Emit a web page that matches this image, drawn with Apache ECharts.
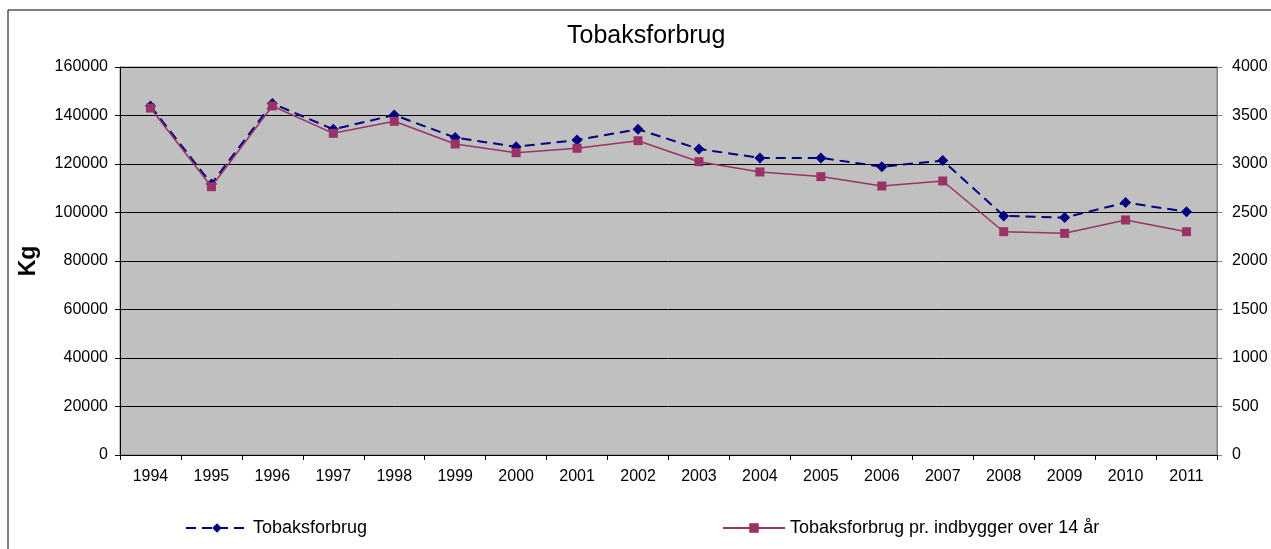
<!DOCTYPE html>
<html>
<head>
<meta charset="utf-8">
<script src="https://cdn.jsdelivr.net/npm/echarts@6/dist/echarts.min.js"></script>
<style>
  html, body { margin: 0; padding: 0; background: #fff; }
  #main { width: 1271px; height: 549px; }
</style>
</head>
<body>
<div id="main"></div>
<script>
var years = ['1994', '1995', '1996', '1997', '1998', '1999', '2000', '2001', '2002',
             '2003', '2004', '2005', '2006', '2007', '2008', '2009', '2010', '2011'];
// Tobaksforbrug i kg (venstre akse)
var forbrugKg = [143900, 111800, 145000, 134300, 140200, 130900, 127100, 129900, 134300,
                 126200, 122500, 122500, 118900, 121400, 98600, 97900, 104100, 100300];
// pr. indbygger over 14 år (højre akse)
var prIndbygger = [3577, 2766, 3598, 3316, 3440, 3206, 3117, 3162, 3240,
                   3024, 2918, 2870, 2773, 2825, 2302, 2285, 2423, 2302];

var myChart = echarts.init(document.getElementById('main'));
var font = 'Liberation Sans, Arial, sans-serif';
var plain = function (v) { return String(v); };

myChart.setOption({
    animation: false,
    textStyle: { fontFamily: font, color: '#000' },
    title: {
        text: 'Tobaksforbrug',
        left: 562,
        top: 19,
        textStyle: { fontFamily: font, fontSize: 25, fontWeight: 'normal', color: '#000' }
    },
    graphic: [{
        type: 'rect',
        shape: { x: 8, y: 10, width: 1300, height: 600 },
        style: { fill: 'none', stroke: '#000', lineWidth: 1 },
        silent: true
    }],
    legend: [{
        left: 180, top: 514,
        itemWidth: 62, itemHeight: 12,
        textStyle: { fontFamily: font, fontSize: 18, color: '#000' },
        data: ['Tobaksforbrug']
    }, {
        left: 717, top: 514,
        itemWidth: 62, itemHeight: 12,
        textStyle: { fontFamily: font, fontSize: 18, color: '#000' },
        data: ['Tobaksforbrug pr. indbygger over 14 år']
    }],
    grid: {
        left: 120, right: 54, top: 67, bottom: 94,
        show: true,
        backgroundColor: '#c0c0c0',
        borderColor: '#808080',
        borderWidth: 1
    },
    xAxis: {
        type: 'category',
        data: years,
        boundaryGap: true,
        axisLine: { lineStyle: { color: '#000', width: 1 } },
        axisTick: { show: true, length: 5, lineStyle: { color: '#000' } },
        axisLabel: { margin: 14, fontSize: 16, color: '#000', fontFamily: font }
    },
    yAxis: [{
        type: 'value',
        min: 0, max: 160000, interval: 20000,
        name: 'Kg',
        nameLocation: 'middle',
        nameRotate: 90,
        nameGap: 80,
        nameTextStyle: { fontSize: 23, fontWeight: 'bold', color: '#000', fontFamily: font },
        axisLine: { show: true, lineStyle: { color: '#000' } },
        axisTick: { show: true, length: 5, lineStyle: { color: '#000' } },
        axisLabel: { margin: 12, fontSize: 16, color: '#000', fontFamily: font, formatter: plain },
        splitLine: { show: true, lineStyle: { color: '#000', width: 1 } }
    }, {
        type: 'value',
        position: 'right',
        min: 0, max: 4000, interval: 500,
        axisLine: { show: true, lineStyle: { color: '#808080' } },
        axisTick: { show: true, length: 5, lineStyle: { color: '#808080' } },
        axisLabel: { margin: 15, fontSize: 16, color: '#000', fontFamily: font, formatter: plain },
        splitLine: { show: false }
    }],
    series: [{
        name: 'Tobaksforbrug',
        type: 'line',
        yAxisIndex: 0,
        data: forbrugKg,
        symbol: 'diamond',
        symbolSize: 11,
        itemStyle: { color: '#000080' },
        lineStyle: { color: '#000080', width: 2, type: [10, 6] },
        z: 3
    }, {
        name: 'Tobaksforbrug pr. indbygger over 14 år',
        type: 'line',
        yAxisIndex: 1,
        data: prIndbygger,
        symbol: 'rect',
        symbolSize: 9,
        itemStyle: { color: '#993366' },
        lineStyle: { color: '#993366', width: 1.5 },
        z: 4
    }]
});
</script>
</body>
</html>
